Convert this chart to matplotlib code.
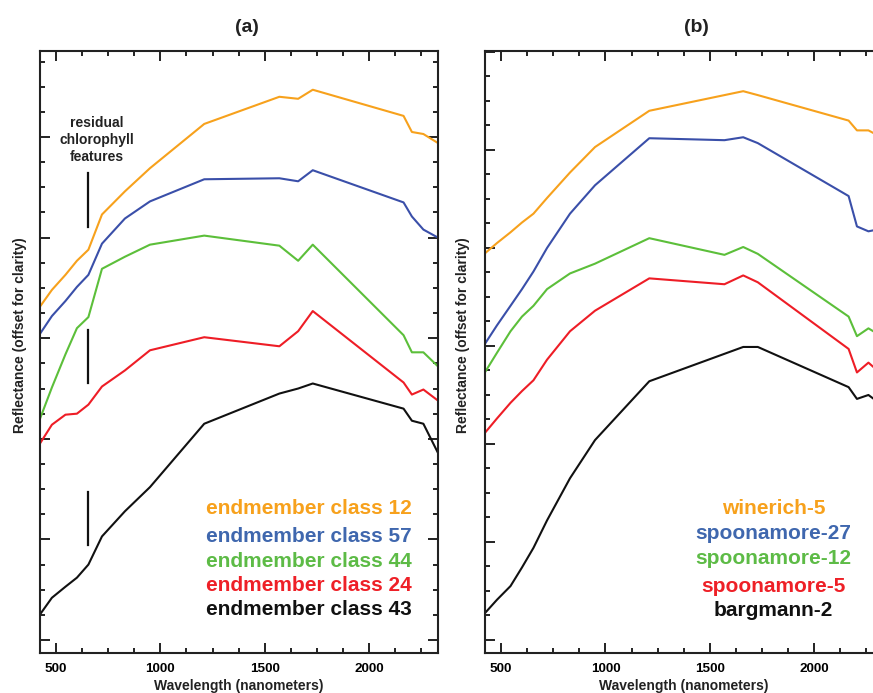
import matplotlib
matplotlib.use("Agg")
import matplotlib.pyplot as plt
from matplotlib.ticker import MultipleLocator

plt.rcParams['font.family'] = ['Liberation Sans', 'DejaVu Sans']
plt.rcParams['font.weight'] = 'bold'

# band centres (nm), shared by all spectra
wavelength = [425, 480, 545, 600, 655, 720, 830, 950, 1210,
              1570, 1660, 1730, 2165, 2205, 2260, 2330]

# panel (a): endmember classes, reflectance offset for clarity
class_12 = [3.32, 3.48, 3.63, 3.77, 3.88, 4.23, 4.46, 4.69, 5.13, 5.40, 5.38, 5.47, 5.21, 5.05, 5.03, 4.94]
class_57 = [3.05, 3.22, 3.37, 3.51, 3.63, 3.94, 4.19, 4.36, 4.58, 4.59, 4.56, 4.67, 4.35, 4.21, 4.08, 4.00]
class_44 = [2.21, 2.51, 2.84, 3.10, 3.21, 3.69, 3.81, 3.93, 4.02, 3.92, 3.77, 3.93, 3.03, 2.86, 2.86, 2.72]
class_24 = [1.96, 2.14, 2.24, 2.25, 2.34, 2.52, 2.68, 2.88, 3.01, 2.92, 3.07, 3.27, 2.56, 2.44, 2.49, 2.38]
class_43 = [0.26, 0.42, 0.53, 0.62, 0.75, 1.03, 1.28, 1.52, 2.15, 2.45, 2.50, 2.55, 2.30, 2.18, 2.15, 1.86]
labels_a = ["endmember class 12", "endmember class 57", "endmember class 44",
            "endmember class 24", "endmember class 43"]

# panel (b): field spectra, reflectance offset for clarity
winerich_5 = [3.95, 4.05, 4.16, 4.26, 4.35, 4.51, 4.77, 5.03, 5.40, 5.56, 5.60, 5.56, 5.30, 5.20, 5.20, 5.12]
spoonamore_27 = [3.03, 3.21, 3.41, 3.58, 3.76, 4.00, 4.35, 4.64, 5.12, 5.10, 5.13, 5.07, 4.53, 4.22, 4.17, 4.20]
spoonamore_12 = [2.74, 2.93, 3.15, 3.30, 3.41, 3.58, 3.74, 3.84, 4.10, 3.93, 4.01, 3.94, 3.30, 3.10, 3.18, 3.09]
spoonamore_5 = [2.12, 2.26, 2.42, 2.54, 2.65, 2.86, 3.15, 3.36, 3.69, 3.63, 3.72, 3.65, 2.97, 2.73, 2.83, 2.70]
bargmann_2 = [0.28, 0.41, 0.55, 0.74, 0.94, 1.22, 1.65, 2.04, 2.64, 2.92, 2.99, 2.99, 2.58, 2.46, 2.50, 2.39]
labels_b = ["winerich-5", "spoonamore-27", "spoonamore-12", "spoonamore-5", "bargmann-2"]

# chlorophyll marker bars (wavelength, y ranges)
chl_wavelength = 655
chl_ranges = [(4.11, 4.64), (2.55, 3.08), (0.94, 1.47)]

line_colors = ["#F7A11C", "#3A4FA9", "#5CBF3A", "#EE1D26", "#111111"]
text_colors = ["#F7A11C", "#3F67AE", "#5DBB46", "#EE2027", "#111111"]


def style_axes(ax, ylim):
    ax.set_xlim(423, 2330)
    ax.set_ylim(*ylim)
    ax.xaxis.set_major_locator(MultipleLocator(500))
    ax.xaxis.set_minor_locator(MultipleLocator(125))
    ax.yaxis.set_major_locator(MultipleLocator(1))
    ax.yaxis.set_minor_locator(MultipleLocator(0.25))
    ax.tick_params(which='both', direction='in', top=True, right=True,
                   width=1.4, color='#222222', labelleft=False)
    ax.tick_params(which='major', length=7.5, pad=7.5, labelsize=9.7)
    ax.tick_params(which='minor', length=3.8)
    for s in ax.spines.values():
        s.set_linewidth(1.5)
        s.set_color('#222222')


def draw_panel(ax, series, labels, text_x, text_y, ha):
    for ys, c in zip(series, line_colors):
        ax.plot(wavelength, ys, color=c, lw=1.5)
    for lab, c, ty in zip(labels, text_colors, text_y):
        ax.text(text_x, ty, lab, color=c, fontsize=15, fontweight='bold',
                ha=ha, va='baseline', transform=ax.transAxes)


fig = plt.figure(figsize=(8.73, 6.93), dpi=100)
ax1 = fig.add_axes([0.0458, 0.0577, 0.4559, 0.8687])
ax2 = fig.add_axes([0.5556, 0.0577, 0.4559, 0.8687])

style_axes(ax1, (-0.129, 5.855))
style_axes(ax2, (-0.133, 6.01))

draw_panel(ax1, [class_12, class_57, class_44, class_24, class_43], labels_a,
           0.934, [0.2309, 0.1849, 0.1434, 0.1035, 0.0631], 'right')
draw_panel(ax2, [winerich_5, spoonamore_27, spoonamore_12, spoonamore_5, bargmann_2], labels_b,
           0.7244, [0.2309, 0.1889, 0.1478, 0.1018, 0.0615], 'center')

for lo, hi in chl_ranges:
    ax1.plot([chl_wavelength, chl_wavelength], [lo, hi], color='#111111', lw=1.6)
for line, ty in zip(["residual", "chlorophyll", "features"], [0.8733, 0.8455, 0.8178]):
    ax1.text(0.1425, ty, line, fontsize=10, fontweight='bold', color='#222222',
             ha='center', va='baseline', transform=ax1.transAxes)

fig.text(246.7 / 873, 1 - 27 / 693, "(a)", fontsize=14, fontweight='bold',
         ha='center', va='center', color='#222222')
fig.text(696.7 / 873, 1 - 27 / 693, "(b)", fontsize=14, fontweight='bold',
         ha='center', va='center', color='#222222')
for cx in [239 / 873, 684 / 873]:
    fig.text(cx, 3 / 693, "Wavelength (nanometers)", fontsize=10, fontweight='bold',
             ha='center', va='baseline', color='#222222')
for cx in [20 / 873, 463.3 / 873]:
    fig.text(cx, 1 - 335 / 693, "Reflectance (offset for clarity)", fontsize=10,
             fontweight='bold', rotation=90, ha='center', va='center', color='#222222')

fig.savefig("out.png", dpi=100)
